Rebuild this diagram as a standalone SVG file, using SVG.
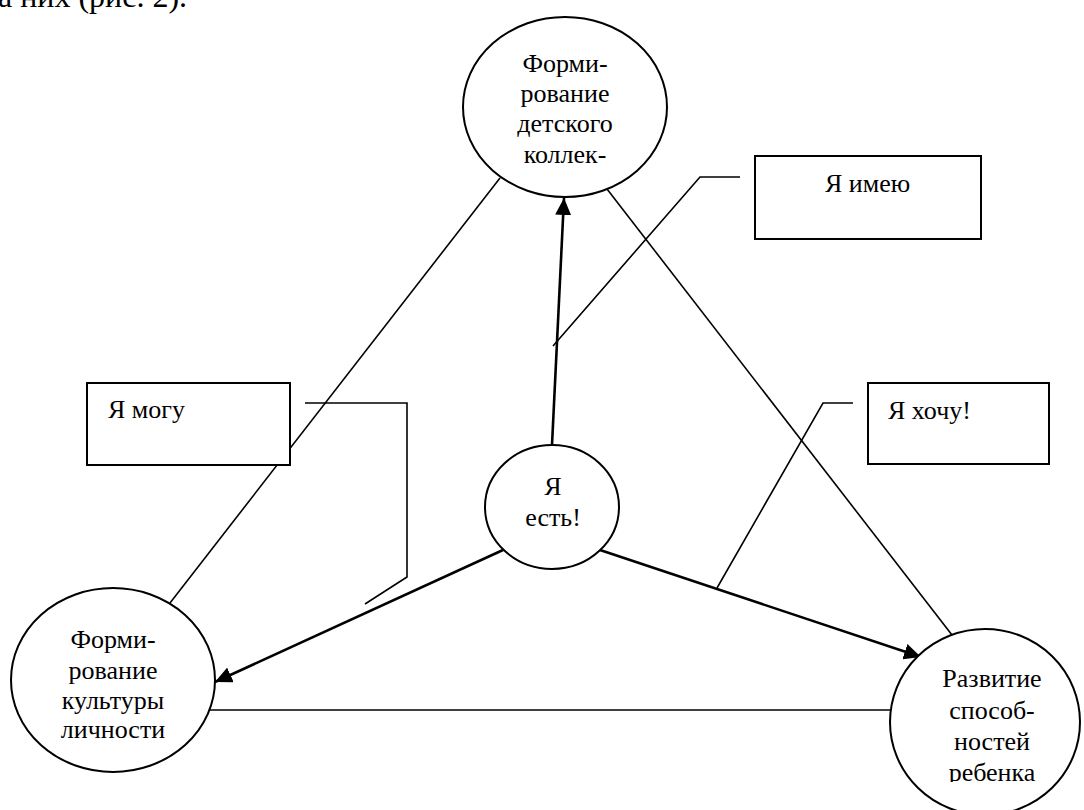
<svg xmlns="http://www.w3.org/2000/svg" width="1084" height="810" viewBox="0 0 1084 810" font-family="'Liberation Serif', 'DejaVu Serif', serif">
  <style>
    text { font-family: 'Liberation Serif', 'DejaVu Serif', serif; fill: #000; }
    .lbl { font-size: 26px; text-anchor: middle; }
    .box-lbl { font-size: 26px; }
    .node { fill: #fff; stroke: #000; stroke-width: 2; }
    .box { fill: #fff; stroke: #000; stroke-width: 2; }
    .thin { fill: none; stroke: #000; stroke-width: 1.6; }
    .arrow { fill: none; stroke: #000; stroke-width: 2.6; marker-end: url(#head); }
  </style>
  <defs>
    <marker id="head" markerUnits="userSpaceOnUse" markerWidth="18" markerHeight="16" refX="17" refY="8" orient="auto">
      <path d="M0,0 L17,8 L0,16 Z" fill="#000"/>
    </marker>
    <clipPath id="clip-dev">
      <rect x="880" y="620" width="204" height="162"/>
    </clipPath>
  </defs>

  <rect width="1084" height="810" fill="#fff"/>

  <!-- running text line above the figure -->
  <text x="-2" y="7" font-size="32">а них (рис. 2).</text>

  <!-- connectors -->
  <g id="connectors">
    <!-- triangle sides -->
    <line class="thin" x1="500" y1="178" x2="170" y2="603"/>
    <line class="thin" x1="607" y1="189" x2="952" y2="635"/>
    <line class="thin" x1="210" y1="710" x2="891" y2="710"/>
    <!-- arrows from the centre -->
    <line class="arrow" x1="552" y1="445" x2="564" y2="198"/>
    <line class="arrow" x1="503" y1="550" x2="215" y2="682"/>
    <line class="arrow" x1="600" y1="550" x2="921" y2="657"/>
    <!-- callout leaders -->
    <polyline class="thin" points="740,177 700,177 553,346"/>
    <polyline class="thin" points="305,403 407,403 407,577 365,604"/>
    <polyline class="thin" points="853,403 823,403 717,588"/>
  </g>

  <g id="node-collective">
    <ellipse class="node" cx="565" cy="107" rx="102" ry="90"/>
    <text class="lbl" x="565" y="72">Форми-</text>
    <text class="lbl" x="565" y="102">рование</text>
    <text class="lbl" x="565" y="132">детского</text>
    <text class="lbl" x="565" y="163">коллек-</text>
  </g>

  <g id="node-culture">
    <ellipse class="node" cx="113" cy="680" rx="102" ry="92"/>
    <text class="lbl" x="113" y="648">Форми-</text>
    <text class="lbl" x="113" y="679">рование</text>
    <text class="lbl" x="113" y="709">культуры</text>
    <text class="lbl" x="113" y="738">личности</text>
  </g>

  <g id="node-abilities">
    <ellipse class="node" cx="985" cy="722" rx="95" ry="93"/>
    <g clip-path="url(#clip-dev)">
      <text class="lbl" x="992" y="687">Развитие</text>
      <text class="lbl" x="992" y="719">способ-</text>
      <text class="lbl" x="992" y="750">ностей</text>
      <text class="lbl" x="992" y="781">ребенка</text>
    </g>
  </g>

  <g id="node-self">
    <ellipse class="node" cx="552" cy="507" rx="67" ry="62"/>
    <text class="lbl" x="553" y="495">Я</text>
    <text class="lbl" x="553" y="526">есть!</text>
  </g>

  <g id="box-have">
    <rect class="box" x="755" y="156" width="226" height="83"/>
    <text class="box-lbl" x="825" y="192">Я имею</text>
  </g>

  <g id="box-can">
    <rect class="box" x="87" y="383" width="203" height="82"/>
    <text class="box-lbl" x="108" y="418">Я могу</text>
  </g>

  <g id="box-want">
    <rect class="box" x="868" y="383" width="181" height="81"/>
    <text class="box-lbl" x="888" y="419">Я хочу!</text>
  </g>
</svg>
